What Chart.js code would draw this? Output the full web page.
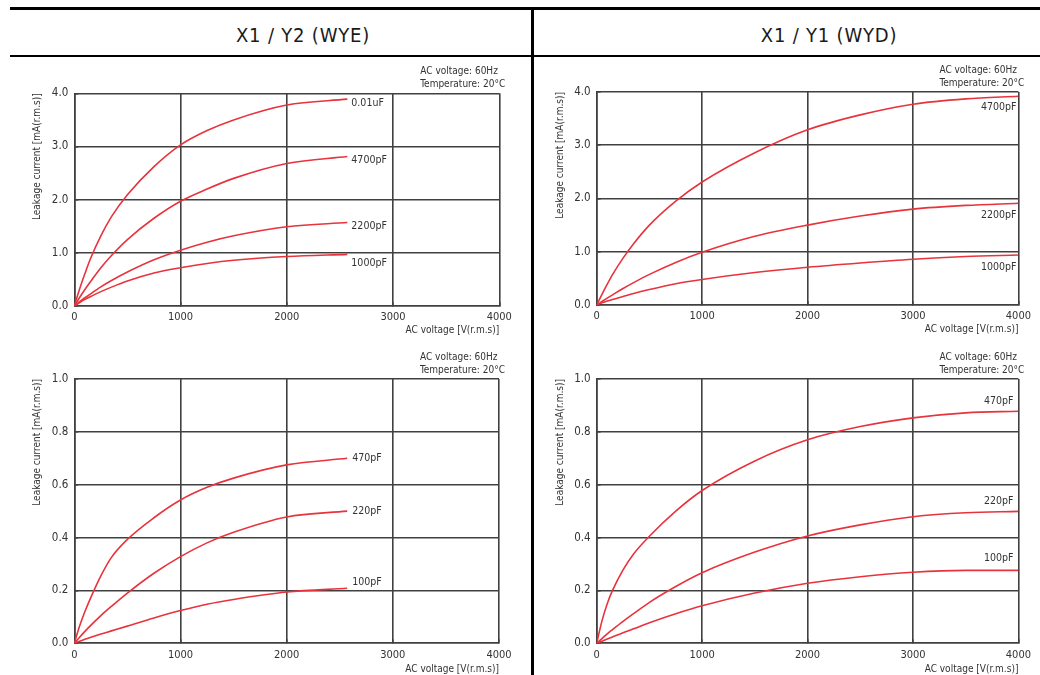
<!DOCTYPE html>
<html>
<head>
<meta charset="utf-8">
<script src="https://cdn.jsdelivr.net/npm/chart.js@4.4.1/dist/chart.umd.min.js"></script>
<style>
  body { margin: 0; width: 1040px; height: 675px; background: #fff; position: relative; overflow: hidden;
         font-family: 'DejaVu Sans Condensed', 'Liberation Sans Narrow', sans-serif; }
  .rule { position: absolute; background: #000; }
  .head { position: absolute; top: 23px; font-size: 20px; color: #1a1a1a; transform: translateX(-50%); white-space: nowrap; letter-spacing: 0.8px; }
  canvas { position: absolute; }
</style>
</head>
<body>
<div class="rule" style="left:10px;top:7px;width:1030px;height:3px"></div>
<div class="rule" style="left:10px;top:55px;width:1030px;height:2px"></div>
<div class="rule" style="left:531px;top:7px;width:3px;height:668px"></div>
<div class="head" style="left:303px">X1 / Y2 (WYE)</div>
<div class="head" style="left:829px">X1 / Y1 (WYD)</div>

<canvas id="wyeHigh"></canvas>
<canvas id="wydHigh"></canvas>
<canvas id="wyeLow"></canvas>
<canvas id="wydLow"></canvas>

<script>
// voltages (V r.m.s) where each curve was read
const wyeVolts = [0, 50, 100, 150, 250, 350, 500, 750, 1000, 1250, 1500, 2000, 2570];
const wydVolts = [0, 50, 100, 150, 250, 350, 500, 750, 1000, 1500, 2000, 2500, 3000, 3500, 4000];

// X1 / Y2 (WYE), leakage current mA(r.m.s)
const wyeHighNames = ['0.01uF', '4700pF', '2200pF', '1000pF'];
const wye10nF   = [0, 0.32, 0.61, 0.88, 1.32, 1.68, 2.09, 2.62, 3.03, 3.3, 3.5, 3.78, 3.89];
const wye4700pF = [0, 0.16, 0.31, 0.45, 0.72, 0.95, 1.25, 1.65, 1.97, 2.2, 2.4, 2.68, 2.81];
const wye2200pF = [0, 0.08, 0.155, 0.225, 0.36, 0.48, 0.64, 0.87, 1.05, 1.2, 1.32, 1.49, 1.57];
const wye1000pF = [0, 0.065, 0.125, 0.175, 0.27, 0.355, 0.47, 0.62, 0.72, 0.8, 0.86, 0.93, 0.97];

const wyeLowNames = ['470pF', '220pF', '100pF'];
const wye470pF = [0, 0.065, 0.12, 0.168, 0.255, 0.325, 0.393, 0.475, 0.542, 0.59, 0.625, 0.675, 0.70];
const wye220pF = [0, 0.023, 0.045, 0.066, 0.105, 0.14, 0.19, 0.265, 0.328, 0.38, 0.42, 0.478, 0.50];
const wye100pF = [0, 0.008, 0.015, 0.022, 0.035, 0.047, 0.065, 0.096, 0.124, 0.148, 0.166, 0.194, 0.208];

// X1 / Y1 (WYD)
const wydHighNames = ['4700pF', '2200pF', '1000pF'];
const wyd4700pF = [0, 0.2, 0.39, 0.57, 0.88, 1.15, 1.5, 1.95, 2.31, 2.86, 3.29, 3.57, 3.77, 3.87, 3.92];
const wyd2200pF = [0, 0.065, 0.128, 0.19, 0.31, 0.42, 0.575, 0.8, 0.99, 1.29, 1.5, 1.67, 1.8, 1.87, 1.91];
const wyd1000pF = [0, 0.04, 0.075, 0.105, 0.16, 0.215, 0.29, 0.4, 0.48, 0.61, 0.71, 0.79, 0.86, 0.91, 0.94];

const wydLowNames = ['470pF', '220pF', '100pF'];
const wyd470pF = [0, 0.085, 0.15, 0.2, 0.278, 0.338, 0.405, 0.5, 0.578, 0.69, 0.77, 0.82, 0.853, 0.872, 0.878];
const wyd220pF = [0, 0.018, 0.036, 0.052, 0.083, 0.112, 0.155, 0.215, 0.267, 0.345, 0.406, 0.448, 0.479, 0.494, 0.499];
const wyd100pF = [0, 0.008, 0.016, 0.024, 0.04, 0.055, 0.078, 0.112, 0.142, 0.19, 0.227, 0.252, 0.269, 0.276, 0.276];

const FONT = "'DejaVu Sans Condensed', 'Liberation Sans Narrow', sans-serif";
const RED = '#e8333d';
const GRID = '#404040';
const TEXT = '#333';
const Y_W = 48;

Chart.defaults.font.family = FONT;
Chart.defaults.color = TEXT;

// test conditions + capacitance labels at the curve ends
const curveNotes = {
    id: 'curveNotes',
    afterDraw(chart, args, opts) {
        const ctx = chart.ctx;
        const area = chart.chartArea;
        ctx.save();
        ctx.fillStyle = TEXT;
        ctx.textBaseline = 'middle';
        ctx.font = '10px ' + FONT;
        ctx.textAlign = 'left';
        ctx.fillText('AC voltage: 60Hz', area.right - 79, area.top - 21.5);
        ctx.fillText('Temperature: 20\u00b0C', area.right - 79, area.top - 8.5);

        ctx.font = '10.5px ' + FONT;
        chart.data.datasets.forEach((ds, i) => {
            const pts = chart.getDatasetMeta(i).data;
            const end = pts[pts.length - 1];
            const dy = opts.dy[i];
            if (opts.align === 'left') {
                ctx.textAlign = 'left';
                ctx.fillText(ds.label, end.x + opts.dx, end.y + dy);
            } else {
                ctx.textAlign = 'right';
                ctx.fillText(ds.label, area.right - opts.dx, end.y + dy);
            }
        });
        ctx.restore();
    }
};

function buildPanel(id, p) {
    const canvas = document.getElementById(id);
    canvas.width = p.box.w;
    canvas.height = p.box.h;
    canvas.style.left = p.box.x + 'px';
    canvas.style.top = p.box.y + 'px';

    const isMajorY = v => Math.abs(v / p.yMajor - Math.round(v / p.yMajor)) < 1e-6;

    return new Chart(canvas, {
        type: 'line',
        data: {
            datasets: p.names.map((name, i) => ({
                label: name,
                data: p.volts.map((v, k) => ({ x: v, y: p.series[i][k] })),
                borderColor: RED,
                borderWidth: 1.6,
                pointRadius: 0,
                fill: false,
                cubicInterpolationMode: 'monotone'
            }))
        },
        options: {
            responsive: false,
            animation: false,
            layout: {
                padding: {
                    left: p.plot.left - p.box.x - Y_W,
                    top: p.plot.top - p.box.y,
                    right: p.box.x + p.box.w - p.plot.right,
                    bottom: p.box.y + p.box.h - p.plot.bottom - p.xH
                }
            },
            plugins: {
                legend: { display: false },
                tooltip: { enabled: false },
                curveNotes: { align: p.align, dx: p.dx, dy: p.dy }
            },
            scales: {
                x: {
                    type: 'linear',
                    min: 0,
                    max: 4000,
                    afterFit: s => { s.height = p.xH; },
                    ticks: {
                        stepSize: 500,
                        autoSkip: false,
                        maxRotation: 0,
                        padding: 9,
                        color: TEXT,
                        font: { size: 11 },
                        callback: v => (v % 1000 === 0 ? String(v) : null)
                    },
                    grid: {
                        color: c => (c.tick && c.tick.value % 1000 === 0 ? GRID : 'transparent'),
                        tickColor: GRID,
                        tickLength: -4,
                        lineWidth: 1.6
                    },
                    border: { color: GRID, width: 1.6 },
                    title: {
                        display: true,
                        text: 'AC voltage [V(r.m.s)]',
                        align: 'end',
                        color: TEXT,
                        font: { size: 10 },
                        padding: { top: 0, bottom: 0 }
                    }
                },
                y: {
                    min: 0,
                    max: p.yMax,
                    afterFit: s => { s.width = Y_W; },
                    ticks: {
                        stepSize: p.yMinor,
                        autoSkip: false,
                        padding: 10,
                        color: TEXT,
                        font: { size: 11.5 },
                        callback: v => (isMajorY(v) ? v.toFixed(1) : null)
                    },
                    grid: {
                        color: c => (c.tick && isMajorY(c.tick.value) ? GRID : 'transparent'),
                        tickColor: GRID,
                        tickLength: -4,
                        lineWidth: 1.6
                    },
                    border: { color: GRID, width: 1.6 },
                    title: {
                        display: true,
                        text: 'Leakage current [mA(r.m.s)]',
                        align: 'end',
                        color: TEXT,
                        font: { size: 10 },
                        padding: { top: 5.5, bottom: 0 }
                    }
                }
            }
        },
        plugins: [curveNotes]
    });
}

buildPanel('wyeHigh', {
    box: { x: 14, y: 56, w: 510, h: 284 },
    plot: { left: 74.3, top: 93.3, right: 499.3, bottom: 306 },
    xH: 30,
    yMax: 4, yMinor: 0.5, yMajor: 1,
    volts: wyeVolts,
    names: wyeHighNames,
    series: [wye10nF, wye4700pF, wye2200pF, wye1000pF],
    align: 'left', dx: 4, dy: [4.3, 4, 4, 9]
});

buildPanel('wydHigh', {
    box: { x: 536, y: 56, w: 504, h: 284 },
    plot: { left: 596.7, top: 92, right: 1020.7, bottom: 305 },
    xH: 30,
    yMax: 4, yMinor: 0.5, yMajor: 1,
    volts: wydVolts,
    names: wydHighNames,
    series: [wyd4700pF, wyd2200pF, wyd1000pF],
    align: 'right', dx: 2, dy: [11.5, 12.4, 12.3]
});

buildPanel('wyeLow', {
    box: { x: 14, y: 340, w: 510, h: 340 },
    plot: { left: 74.3, top: 379, right: 499, bottom: 643.3 },
    xH: 32.6,
    yMax: 1, yMinor: 0.1, yMajor: 0.2,
    volts: wyeVolts,
    names: wyeLowNames,
    series: [wye470pF, wye220pF, wye100pF],
    align: 'left', dx: 5, dy: [0, 0, -5.6]
});

buildPanel('wydLow', {
    box: { x: 536, y: 340, w: 504, h: 340 },
    plot: { left: 596.7, top: 379, right: 1020.7, bottom: 643.3 },
    xH: 32.6,
    yMax: 1, yMinor: 0.1, yMajor: 0.2,
    volts: wydVolts,
    names: wydLowNames,
    series: [wyd470pF, wyd220pF, wyd100pF],
    align: 'right', dx: 5, dy: [-10, -9.7, -12]
});
</script>
</body>
</html>
